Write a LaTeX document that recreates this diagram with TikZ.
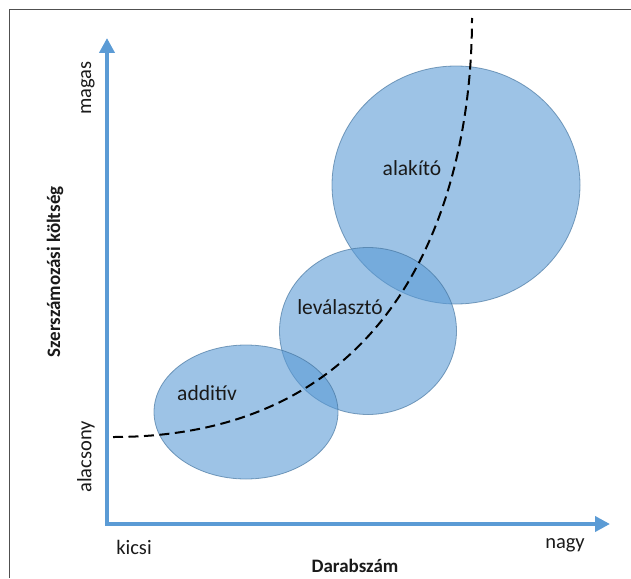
\documentclass[tikz,border=0pt]{standalone}
\usepackage{fontspec}
\setmainfont{Carlito}
\usetikzlibrary{arrows.meta,shapes.geometric}
\definecolor{axisblue}{HTML}{5B9BD5}
\definecolor{blobfill}{HTML}{5B9BD5}
\definecolor{blobline}{HTML}{41719C}
\definecolor{framegray}{HTML}{505050}
\definecolor{txt}{HTML}{1A1A1A}
\tikzset{
  axisline/.style={line width=4.5pt, color=axisblue, line join=miter,
    {Triangle[length=15pt,width=15pt]}-{Triangle[length=15pt,width=15pt]}},
  blob/.style={ellipse, inner sep=0pt, fill=blobfill, fill opacity=0.6,
    draw=blobline, draw opacity=0.65, line width=0.8pt},
  blobtext/.style={font=\fontsize{21.5}{25}\selectfont, text=txt, inner sep=0pt},
  ticktext/.style={font=\fontsize{20.5}{24}\selectfont, text=txt, inner sep=0pt},
  titletext/.style={font=\bfseries\fontsize{19}{23}\selectfont, text=txt, inner sep=0pt},
  curve/.style={line width=2pt, black, dash pattern=on 10pt off 5.5pt},
}
\begin{document}
\begin{tikzpicture}[x=1pt,y=-1pt]
\useasboundingbox (0,0) rectangle (631,578);
% frame
\draw[framegray, line width=1.5pt] (9.5,578) -- (9.5,9.5) -- (631,9.5);
% axes
\coordinate (ytip) at (107,38);
\coordinate (O) at (107,524);
\coordinate (xtip) at (610,524);
\draw[axisline] (ytip) -- (O) -- (xtip);
% blobs
\node[blob, minimum width=248pt, minimum height=238pt] (alak) at (456,185) {};
\node[blob, minimum width=177pt, minimum height=167pt] (lev) at (368,331) {};
\node[blob, minimum width=184pt, minimum height=134pt] (add) at (246,412) {};
\node[blobtext] (talak) at (412,168) {alakító};
\node[blobtext] (tlev) at (340,307) {leválasztó};
\node[blobtext] (tadd) at (207,393) {additív};
% dashed curve
\coordinate (cs) at (113,437);
\coordinate (ce) at (472,18);
\draw[curve] (cs) .. controls (400,437) and (472,198) .. (ce);
% labels
\node[ticktext, rotate=90] (magas) at (88,88) {magas};
\node[ticktext, rotate=90] (alacs) at (86,457) {alacsony};
\node[titletext, rotate=90] (ytitle) at (55,272) {Szerszámozási költség};
\node[ticktext] (kicsi) at (134,547) {kicsi};
\node[ticktext] (nagy) at (565,545) {nagy};
\node[titletext] (xtitle) at (355,566) {Darabszám};
\end{tikzpicture}
\end{document}
